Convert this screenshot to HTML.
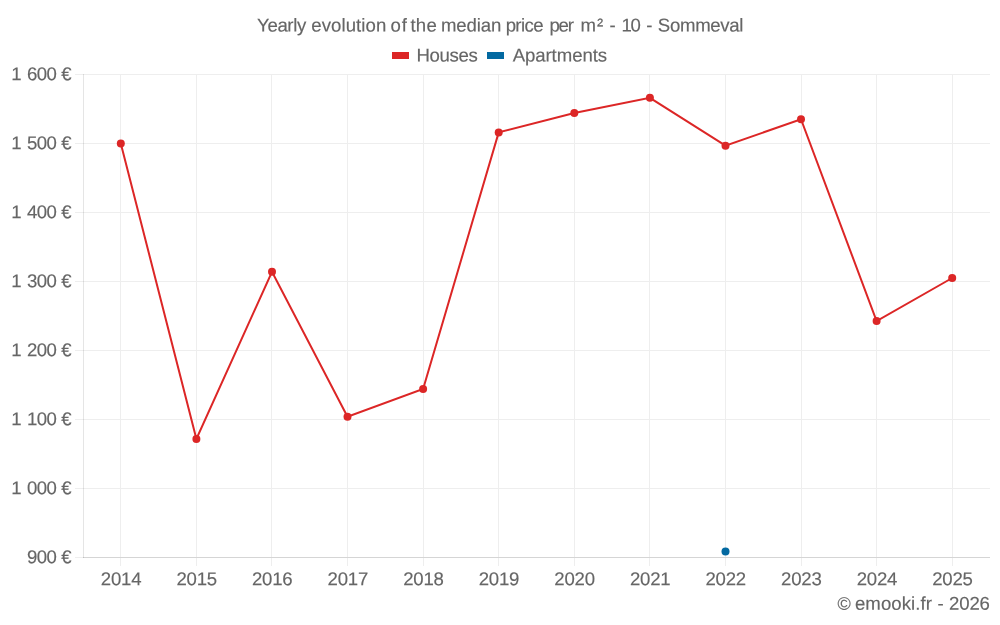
<!DOCTYPE html>
<html lang="en">
<head>
<meta charset="utf-8">
<title>Yearly evolution of the median price per m² - 10 - Sommeval</title>
<style>
html,body{margin:0;padding:0;background:#fff;}
body{width:1000px;height:625px;overflow:hidden;}
svg{display:block;}
text{font-family:"Liberation Sans",Arial,sans-serif;font-size:18.6px;fill:#666;stroke:#666;stroke-width:0.15px;white-space:pre;text-rendering:geometricPrecision;}
</style>
</head>
<body>
<svg width="1000" height="625" viewBox="0 0 1000 625">
<rect x="0" y="0" width="1000" height="625" fill="#fff"/>
<g stroke="#eeeeee" stroke-width="1" shape-rendering="crispEdges">
<line x1="120.5" y1="74.0" x2="120.5" y2="566.0"/>
<line x1="196.5" y1="74.0" x2="196.5" y2="566.0"/>
<line x1="271.5" y1="74.0" x2="271.5" y2="566.0"/>
<line x1="347.5" y1="74.0" x2="347.5" y2="566.0"/>
<line x1="423.5" y1="74.0" x2="423.5" y2="566.0"/>
<line x1="498.5" y1="74.0" x2="498.5" y2="566.0"/>
<line x1="574.5" y1="74.0" x2="574.5" y2="566.0"/>
<line x1="649.5" y1="74.0" x2="649.5" y2="566.0"/>
<line x1="725.5" y1="74.0" x2="725.5" y2="566.0"/>
<line x1="801.5" y1="74.0" x2="801.5" y2="566.0"/>
<line x1="876.5" y1="74.0" x2="876.5" y2="566.0"/>
<line x1="952.5" y1="74.0" x2="952.5" y2="566.0"/>
<line x1="75.0" y1="74.5" x2="990.0" y2="74.5"/>
<line x1="75.0" y1="143.5" x2="990.0" y2="143.5"/>
<line x1="75.0" y1="212.5" x2="990.0" y2="212.5"/>
<line x1="75.0" y1="281.5" x2="990.0" y2="281.5"/>
<line x1="75.0" y1="350.5" x2="990.0" y2="350.5"/>
<line x1="75.0" y1="419.5" x2="990.0" y2="419.5"/>
<line x1="75.0" y1="488.5" x2="990.0" y2="488.5"/>
<line x1="75.0" y1="557.5" x2="990.0" y2="557.5"/>
</g>
<g stroke="#000" stroke-opacity="0.1" stroke-width="1" shape-rendering="crispEdges">
<line x1="83" y1="557.5" x2="990" y2="557.5"/>
<line x1="83.5" y1="74" x2="83.5" y2="558"/>
</g>
<text y="31.50" transform="matrix(1,0.0005,0,1,0,-0.250)"><tspan x="257.11" letter-spacing="-0.38">Yearly </tspan><tspan x="311.25" letter-spacing="0.08">evolution </tspan><tspan x="390.42" letter-spacing="1.00">of </tspan><tspan x="410.40" letter-spacing="0.30">the </tspan><tspan x="440.88" letter-spacing="-0.11">median </tspan><tspan x="505.65" letter-spacing="-0.61">price </tspan><tspan x="549.44" letter-spacing="-1.23">per </tspan><tspan x="580.43" letter-spacing="1.00">m² </tspan><tspan x="609.59" letter-spacing="-0.25">- </tspan><tspan x="621.38" letter-spacing="-1.20">10 </tspan><tspan x="646.36" letter-spacing="-0.25">- </tspan><tspan x="657.83" letter-spacing="-0.31">Sommeval</tspan></text>
<rect x="392" y="52" width="17" height="7" fill="#dc2626"/>
<text y="61.50" transform="matrix(1,0.0005,0,1,0,-0.224)"><tspan x="416.44" letter-spacing="-0.35">Houses</tspan></text>
<rect x="487" y="52" width="17" height="7" fill="#0369a1"/>
<text y="61.50" transform="matrix(1,0.0005,0,1,0,-0.280)"><tspan x="512.63" letter-spacing="-0.07">Apartments</tspan></text>
<text y="80.25" transform="matrix(1,0.0005,0,1,0,-0.021)"><tspan x="11.36" letter-spacing="-0.25">1 </tspan><tspan x="26.91" letter-spacing="-0.57">600 </tspan><tspan x="61.14" letter-spacing="-0.25">€</tspan></text>
<text y="149.25" transform="matrix(1,0.0005,0,1,0,-0.021)"><tspan x="11.36" letter-spacing="-0.25">1 </tspan><tspan x="26.91" letter-spacing="-0.57">500 </tspan><tspan x="61.14" letter-spacing="-0.25">€</tspan></text>
<text y="218.25" transform="matrix(1,0.0005,0,1,0,-0.021)"><tspan x="11.36" letter-spacing="-0.25">1 </tspan><tspan x="26.91" letter-spacing="-0.57">400 </tspan><tspan x="61.14" letter-spacing="-0.25">€</tspan></text>
<text y="287.25" transform="matrix(1,0.0005,0,1,0,-0.021)"><tspan x="11.36" letter-spacing="-0.25">1 </tspan><tspan x="26.91" letter-spacing="-0.57">300 </tspan><tspan x="61.14" letter-spacing="-0.25">€</tspan></text>
<text y="356.25" transform="matrix(1,0.0005,0,1,0,-0.021)"><tspan x="11.36" letter-spacing="-0.25">1 </tspan><tspan x="26.91" letter-spacing="-0.57">200 </tspan><tspan x="61.14" letter-spacing="-0.25">€</tspan></text>
<text y="425.25" transform="matrix(1,0.0005,0,1,0,-0.021)"><tspan x="11.36" letter-spacing="-0.25">1 </tspan><tspan x="26.91" letter-spacing="-0.57">100 </tspan><tspan x="61.14" letter-spacing="-0.25">€</tspan></text>
<text y="494.25" transform="matrix(1,0.0005,0,1,0,-0.021)"><tspan x="11.36" letter-spacing="-0.25">1 </tspan><tspan x="26.91" letter-spacing="-0.57">000 </tspan><tspan x="61.14" letter-spacing="-0.25">€</tspan></text>
<text y="563.25" transform="matrix(1,0.0005,0,1,0,-0.021)"><tspan x="26.91" letter-spacing="-0.57">900 </tspan><tspan x="61.14" letter-spacing="-0.25">€</tspan></text>
<text y="585.25" transform="matrix(1,0.0005,0,1,0,-0.060)"><tspan x="100.86" letter-spacing="-0.24">2014</tspan></text>
<text y="585.25" transform="matrix(1,0.0005,0,1,0,-0.098)"><tspan x="176.44" letter-spacing="-0.24">2015</tspan></text>
<text y="585.25" transform="matrix(1,0.0005,0,1,0,-0.136)"><tspan x="252.02" letter-spacing="-0.24">2016</tspan></text>
<text y="585.25" transform="matrix(1,0.0005,0,1,0,-0.174)"><tspan x="327.61" letter-spacing="-0.24">2017</tspan></text>
<text y="585.25" transform="matrix(1,0.0005,0,1,0,-0.212)"><tspan x="403.19" letter-spacing="-0.24">2018</tspan></text>
<text y="585.25" transform="matrix(1,0.0005,0,1,0,-0.249)"><tspan x="478.77" letter-spacing="-0.24">2019</tspan></text>
<text y="585.25" transform="matrix(1,0.0005,0,1,0,-0.287)"><tspan x="554.36" letter-spacing="-0.24">2020</tspan></text>
<text y="585.25" transform="matrix(1,0.0005,0,1,0,-0.325)"><tspan x="629.94" letter-spacing="-0.24">2021</tspan></text>
<text y="585.25" transform="matrix(1,0.0005,0,1,0,-0.363)"><tspan x="705.52" letter-spacing="-0.24">2022</tspan></text>
<text y="585.25" transform="matrix(1,0.0005,0,1,0,-0.401)"><tspan x="781.11" letter-spacing="-0.24">2023</tspan></text>
<text y="585.25" transform="matrix(1,0.0005,0,1,0,-0.438)"><tspan x="856.69" letter-spacing="-0.24">2024</tspan></text>
<text y="585.25" transform="matrix(1,0.0005,0,1,0,-0.476)"><tspan x="932.27" letter-spacing="-0.24">2025</tspan></text>
<text y="609.75" transform="matrix(1,0.0005,0,1,0,-0.457)"><tspan x="837.53" letter-spacing="-0.25" font-size="18.0">© </tspan><tspan x="854.94" letter-spacing="0.06">emooki.fr </tspan><tspan x="937.39" letter-spacing="-0.25">- </tspan><tspan x="949.11" letter-spacing="-0.19">2026</tspan></text>
<polyline points="120.8,143.4 196.4,439.0 272.0,271.8 347.5,416.8 423.1,389.0 498.7,132.4 574.3,113.0 649.9,97.8 725.5,145.7 801.0,119.2 876.6,321.0 952.2,278.0" fill="none" stroke="#dc2626" stroke-width="2" stroke-linejoin="miter" stroke-linecap="butt"/>
<g fill="#dc2626">
<circle cx="120.8" cy="143.4" r="4"/>
<circle cx="196.4" cy="439.0" r="4"/>
<circle cx="272.0" cy="271.8" r="4"/>
<circle cx="347.5" cy="416.8" r="4"/>
<circle cx="423.1" cy="389.0" r="4"/>
<circle cx="498.7" cy="132.4" r="4"/>
<circle cx="574.3" cy="113.0" r="4"/>
<circle cx="649.9" cy="97.8" r="4"/>
<circle cx="725.5" cy="145.7" r="4"/>
<circle cx="801.0" cy="119.2" r="4"/>
<circle cx="876.6" cy="321.0" r="4"/>
<circle cx="952.2" cy="278.0" r="4"/>
</g>
<circle cx="725.5" cy="551.5" r="4" fill="#0369a1"/>
</svg>
</body>
</html>
